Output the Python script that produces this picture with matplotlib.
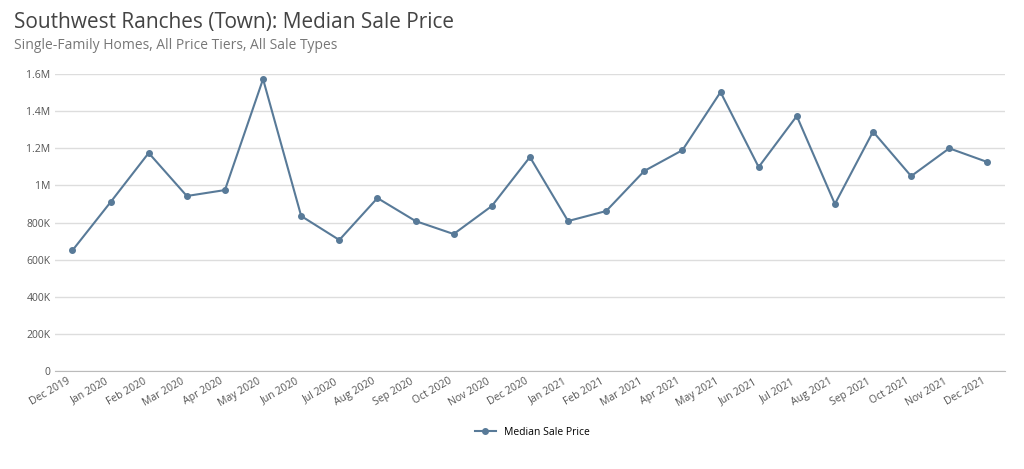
import matplotlib
matplotlib.use('Agg')
import matplotlib.pyplot as plt
from matplotlib.ticker import FuncFormatter

plt.rcParams['font.family'] = 'Open Sans'

months = ['Dec 2019', 'Jan 2020', 'Feb 2020', 'Mar 2020', 'Apr 2020', 'May 2020',
          'Jun 2020', 'Jul 2020', 'Aug 2020', 'Sep 2020', 'Oct 2020', 'Nov 2020',
          'Dec 2020', 'Jan 2021', 'Feb 2021', 'Mar 2021', 'Apr 2021', 'May 2021',
          'Jun 2021', 'Jul 2021', 'Aug 2021', 'Sep 2021', 'Oct 2021', 'Nov 2021',
          'Dec 2021']
prices = [650000, 910000, 1175000, 943000, 975000, 1573000,
          835000, 706000, 932000, 808000, 738000, 889000,
          1153000, 808000, 862000, 1078000, 1190000, 1503000,
          1099000, 1374000, 900000, 1290000, 1050000, 1200000,
          1126000]

def fmt(v, pos):
    if v == 0:
        return '0'
    if v >= 1e6:
        s = ('%.1f' % (v / 1e6)).rstrip('0').rstrip('.')
        return s + 'M'
    return '%dK' % (v / 1e3)

fig = plt.figure(figsize=(10.24, 4.69), dpi=100)
ax = fig.add_axes([0.054, 0.209, 0.927, 0.633])
x = list(range(len(months)))
ax.plot(x, prices, color='#587a98', lw=1.5, marker='o', ms=4, label='Median Sale Price')
ax.set_ylim(0, 1600000)
ax.set_yticks([i * 200000 for i in range(9)])
ax.yaxis.set_major_formatter(FuncFormatter(fmt))
ax.set_xlim(-0.45, len(months) - 1 + 0.45)
ax.set_xticks(x)
ax.set_xticklabels(months, rotation=30, ha='right', fontsize=7.5, color='#555555')
ax.tick_params(axis='y', labelsize=7.5, colors='#555555', length=0)
ax.tick_params(axis='x', length=0)
ax.grid(axis='y', color='#dddddd', lw=1)
for s in ['top', 'right', 'left']:
    ax.spines[s].set_visible(False)
ax.spines['bottom'].set_color('#bbbbbb')
ax.set_axisbelow(True)

fig.text(0.014, 0.94, 'Southwest Ranches (Town): Median Sale Price', fontsize=15, color='#444444')
fig.text(0.014, 0.895, 'Single-Family Homes, All Price Tiers, All Sale Types', fontsize=10, color='#777777')
fig.legend(loc='center', bbox_to_anchor=(0.52, 0.078), frameon=False, fontsize=7.5)

fig.savefig('out.png', dpi=100)
